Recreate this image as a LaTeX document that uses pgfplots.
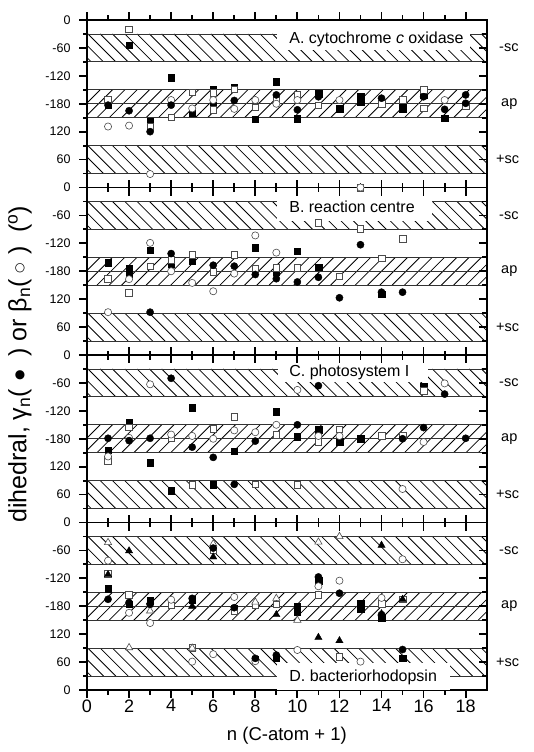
\documentclass[border=0pt]{standalone}
\usepackage{pgfplots}
\pgfplotsset{compat=1.18}
\usepackage{fontspec}
\setmainfont{Liberation Sans}
\newfontfamily\sym{DejaVu Sans}
\newcommand\tfont{\fontsize{16}{16}\selectfont}
\newcommand\rfont{\fontsize{14.5}{14.5}\selectfont}
\newcommand\lfont{\fontsize{25}{25}\selectfont}
% t = -angle for negative dihedrals (top half), 360 - angle for positive ones (bottom half)
\pgfplotsset{
 panel/.style={
   scale only axis, width=399.7pt, height=167.5pt, anchor=north west,
   xmin=0, xmax=19, ymin=0, ymax=360, y dir=reverse,
   xtick={0,2,...,18}, minor xtick={1,3,...,19}, xticklabels={},
   ytick={0,60,...,360}, minor ytick={30,90,...,330},
   yticklabels={0,-60,-120,-180,120,60,{}},
   major tick length=0pt, minor tick length=0pt,
   axis line style={line width=1.6pt},
   yticklabel style={font=\fontsize{12.5}{12.5}\selectfont, xshift=-13pt},
   clip=false,
 },
 fsq/.style={only marks, mark=square*, mark size=3.3pt, mark options={fill=black, draw=black, line width=0.4pt}},
 osq/.style={only marks, mark=square*, mark size=3.3pt, mark options={fill=white, draw=black!70, line width=0.6pt}},
 fci/.style={only marks, mark=*, mark size=3.6pt, mark options={fill=black, draw=black, line width=0.4pt}},
 oci/.style={only marks, mark=*, mark size=3.6pt, mark options={fill=white, draw=black!70, line width=0.6pt}},
 ftri/.style={only marks, mark=triangle*, mark size=4.2pt, mark options={fill=black, draw=black, line width=0.4pt}},
 otri/.style={only marks, mark=triangle*, mark size=4.2pt, mark options={fill=white, draw=black!70, line width=0.6pt}},
}
% hatched band: #1 top (pt), #2 bottom (pt), #3 = 1 for "\" lines, -1 for "/" lines
\newcommand\hatchband[3]{%
 \begin{scope}
 \clip (0pt,#1pt) rectangle (399.7pt,#2pt);
 \foreach \x in {-36,-23.7,...,440} {\draw[line width=0.8pt] (\x pt,#1pt) -- ++(#3*27.92pt,-27.92pt);}
 \end{scope}}
\newcommand\panelbands{%
 \hatchband{-13.958}{-41.875}{1}
 \hatchband{-69.792}{-97.708}{-1}
 \hatchband{-125.625}{-153.542}{1}
 \foreach \yy in {13.958,41.875,69.792,83.75,97.708,125.625,153.542} {\draw[line width=0.8pt, black!80] (0pt,-\yy pt) -- (399.7pt,-\yy pt);}
}
\newcommand\rlabels{%
 \node[anchor=west, font=\rfont, xshift=9pt] at (axis cs:19,60) {-sc};
 \node[anchor=west, font=\rfont, xshift=11pt] at (axis cs:19,180) {ap};
 \node[anchor=west, font=\rfont, xshift=6pt] at (axis cs:19,300) {+sc};
}
\begin{document}
\begin{tikzpicture}
\path[use as bounding box] (-87pt,20pt) rectangle (447pt,-732pt);
% conformation bands (-sc, ap, +sc) behind the four panels
\begin{scope}\panelbands\end{scope}
\begin{scope}[yshift=-167.5pt]\panelbands\end{scope}
\begin{scope}[yshift=-335pt]\panelbands\end{scope}
\begin{scope}[yshift=-502.5pt]\panelbands\end{scope}
% ---------------- tick marks as small filled bars (outward; crossing where panels meet) ----------------
\foreach \yb/\up/\dn in {0/8/0, -167.5/8/8, -335/8/8, -502.5/8/8, -670/0/8} {
  \foreach \k in {0,2,4,6,8,10,12,14,16,18} {\fill[black] (\k*21.0368pt-0.9pt,\yb pt+\up pt) rectangle (\k*21.0368pt+0.9pt,\yb pt-\dn pt);}
  \foreach \k in {1,3,5,7,9,11,13,15,17} {\fill[black] (\k*21.0368pt-0.9pt,\yb pt+0.5625*\up pt) rectangle (\k*21.0368pt+0.9pt,\yb pt-0.5625*\dn pt);}
}
\foreach \yo in {0,-167.5,-335,-502.5} {
  \foreach \a in {0,60,120,180,240,300,360} {
    \fill[black] (-8pt,\yo pt-\a*0.465278pt-0.9pt) rectangle (0pt,\yo pt-\a*0.465278pt+0.9pt);
    \fill[black] (391.7pt,\yo pt-\a*0.465278pt-0.9pt) rectangle (399.7pt,\yo pt-\a*0.465278pt+0.9pt);}
  \foreach \a in {30,90,150,210,270,330} {
    \fill[black] (-4.5pt,\yo pt-\a*0.465278pt-0.9pt) rectangle (0pt,\yo pt-\a*0.465278pt+0.9pt);
    \fill[black] (395.2pt,\yo pt-\a*0.465278pt-0.9pt) rectangle (399.7pt,\yo pt-\a*0.465278pt+0.9pt);}
}
% ---------------- A ----------------
\begin{axis}[panel, at={(0pt,0pt)}]
\addplot[fsq] coordinates {(1,183)(2,54)(3,218)(4,124)(5,200)(6,150)(6,184)(7,146)(8,213)(9,132)(10,212)(11,158)(12,190)(13,165)(13,175)(15,186)(15,192)(16,161)(17,211)};
\addplot[osq] coordinates {(1,172)(2,20)(3,229)(4,209)(5,155)(6,156)(6,193)(7,149)(8,188)(9,171)(10,161)(11,183)(13,360)(14,180)(15,172)(16,150)(16,190)(18,185)};
\addplot[oci] coordinates {(1,229)(2,227)(3,331)(4,172)(5,190)(6,172)(7,191)(8,172)(9,180)(10,172)(12,172)(17,172)};
\addplot[fci] coordinates {(1,183)(2,195)(3,240)(4,183)(7,173)(9,161)(10,193)(11,165)(14,168)(16,165)(17,192)(18,161)(18,179)};
\fill[white] (axis cs:9.03,18) rectangle (axis cs:18.2,64);
\node[anchor=west, font=\tfont] at (axis cs:9.45,41) {A. cytochrome \textit{c} oxidase};
\rlabels
\end{axis}
% ---------------- B ----------------
\begin{axis}[panel, at={(0pt,-167.5pt)}]
\addplot[fsq] coordinates {(1,162)(2,174)(2,186)(3,135)(4,165)(5,158)(8,130)(9,181)(10,137)(11,171)(14,229)};
\addplot[osq] coordinates {(1,196)(2,226)(3,169)(4,155)(5,144)(6,181)(7,144)(8,175)(9,172)(10,172)(11,76)(12,191)(13,89)(14,152)(15,110)};
\addplot[oci] coordinates {(1,268)(2,197)(3,119)(4,180)(5,205)(6,223)(7,185)(8,103)(9,140)(13,0)};
\addplot[fci] coordinates {(3,268)(4,142)(6,167)(7,169)(8,187)(9,196)(10,203)(11,193)(12,237)(13,123)(14,225)(15,225)};
\fill[white] (axis cs:9.03,22) rectangle (axis cs:16.4,73);
\node[anchor=west, font=\tfont] at (axis cs:9.45,42) {B. reaction centre};
\rlabels
\end{axis}
% ---------------- C ----------------
\begin{axis}[panel, at={(0pt,-335pt)}]
\addplot[fsq] coordinates {(1,205)(2,144)(3,232)(4,292)(5,113)(6,279)(7,207)(9,122)(10,176)(11,160)(12,186)(13,180)(16,68)};
\addplot[osq] coordinates {(1,228)(2,155)(4,179)(5,279)(6,158)(7,133)(8,278)(9,171)(10,279)(11,187)(12,160)(14,174)(15,174)(16,77)};
\addplot[oci] coordinates {(1,218)(2,178)(3,63)(4,171)(5,174)(6,180)(7,162)(8,166)(9,150)(10,75)(11,174)(12,174)(15,288)(16,187)(17,61)};
\addplot[fci] coordinates {(1,179)(2,184)(3,179)(4,50)(5,198)(6,220)(7,278)(8,185)(10,150)(11,66)(15,180)(16,156)(17,84)(18,179)};
\fill[white] (axis cs:9.1,18) rectangle (axis cs:16.2,57);
\node[anchor=west, font=\tfont] at (axis cs:9.45,37) {C. photosystem I};
\rlabels
\end{axis}
% ---------------- D ----------------
\begin{axis}[panel, at={(0pt,-502.5pt)},
   yticklabels={0,-60,-120,-180,120,60,0},
   xticklabels={0,2,4,6,8,10,12,14,16,18},
   xticklabel style={font=\fontsize{18}{18}\selectfont, yshift=-6pt},
   xlabel={n (C-atom + 1)},
   xlabel style={font=\fontsize{18.5}{18.5}\selectfont, yshift=-8pt}]
\addplot[fsq] coordinates {(1,142)(2,176)(3,168)(5,166)(7,184)(8,294)(9,290)(10,180)(10,192)(11,125)(13,173)(13,185)(14,205)(15,292)};
\addplot[osq] coordinates {(1,110)(2,156)(4,178)(5,269)(6,60)(7,190)(8,178)(9,176)(11,156)(12,289)(14,175)(15,165)};
\addplot[otri] coordinates {(1,43)(2,269)(3,190)(5,270)(6,46)(8,171)(9,163)(10,210)(11,42)(12,30)};
\addplot[oci] coordinates {(1,82)(2,194)(3,216)(4,166)(5,299)(6,283)(7,160)(8,298)(10,274)(11,137)(12,125)(13,299)(14,162)(15,79)};
\addplot[fci] coordinates {(1,165)(2,172)(3,176)(5,163)(6,55)(7,183)(8,292)(9,285)(11,117)(12,152)(14,198)(15,273)};
\addplot[ftri] coordinates {(1,112)(2,61)(3,170)(5,180)(6,74)(9,198)(11,247)(12,254)(14,49)(14,196)(15,165)};
\fill[white] (axis cs:9.03,302) rectangle (axis cs:17.25,360);
\node[anchor=west, font=\tfont] at (axis cs:9.45,332) {D. bacteriorhodopsin};
\rlabels
\end{axis}
% ---------------- y label pieces ----------------
\node[rotate=90, anchor=west, font=\lfont, inner sep=0pt] at (-67pt,-503pt) {dihedral, γ\textsubscript{n}(};
\node[rotate=90, font=\fontsize{12}{12}\selectfont\sym, inner sep=0pt] at (-67pt,-355pt) {●};
\node[rotate=90, anchor=west, font=\lfont, inner sep=0pt] at (-67pt,-337pt) {) or β\textsubscript{n}(};
\node[rotate=90, font=\fontsize{12}{12}\selectfont\sym, inner sep=0pt] at (-67pt,-248pt) {○};
\node[rotate=90, anchor=west, font=\lfont, inner sep=0pt] at (-67pt,-235pt) {)};
\node[rotate=90, anchor=west, font=\lfont, inner sep=0pt] at (-67pt,-213pt) {(\textsuperscript{o})};
\end{tikzpicture}
\end{document}
